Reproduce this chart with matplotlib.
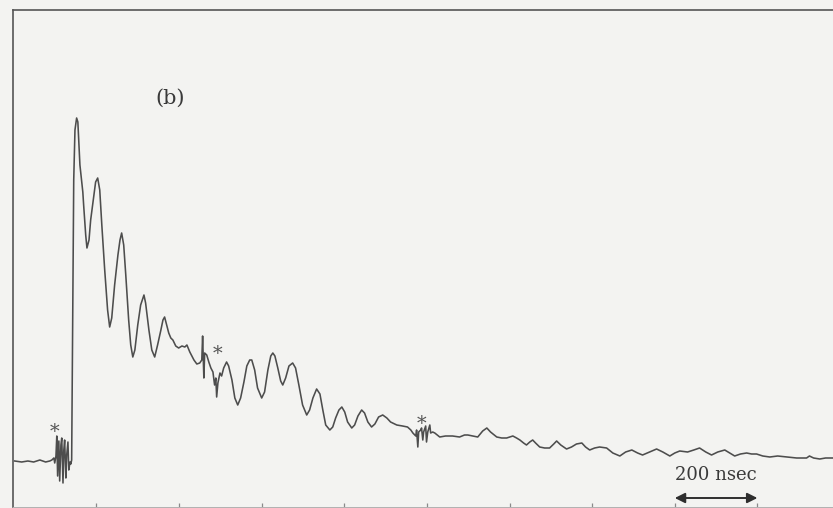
"""
Осциллограмма (b): затухающие колебания после импульса, шкала 200 нс.
"""

import matplotlib.pyplot as plt

# Время, нс
time_ns = [
    2, 19, 34, 48, 63, 77, 87, 92, 97, 99, 102, 104, 106, 109, 111, 114, 116, 119,
    121, 123, 126, 128, 131, 133, 136, 138, 140,
    143, 145, 148, 152, 155, 157, 160, 165, 167, 169, 174, 177, 182, 186, 194, 198,
    203, 208, 213, 220, 227, 232, 237, 244, 252, 257, 261, 266, 271, 278, 283, 288,
    293, 300, 307, 315, 319, 327, 334, 341, 348, 356, 361, 365, 370, 375, 380, 385,
    392, 399, 407, 414, 419, 426, 436, 443, 450, 455, 457, 460, 462, 467, 472, 477,
    482, 486, 489, 491, 494, 499, 503, 508, 515, 520, 528, 535, 542, 549, 557, 564,
    571, 576, 583, 590, 600, 607, 615, 622, 627, 632, 639, 646, 651, 658, 666, 675,
    682, 690, 699, 709, 716, 724, 733, 741, 748, 755, 765, 772, 779, 787, 794, 801,
    808, 818, 825, 833, 842, 849, 857, 866, 874, 883, 893, 903, 912, 927, 941, 953,
    961, 966, 973, 975, 978, 980, 985, 987, 990, 992, 997, 999, 1002, 1007, 1009,
    1014, 1019, 1031, 1045, 1062, 1079, 1091, 1099, 1111, 1123, 1135, 1145, 1154,
    1169, 1181, 1193, 1208, 1217, 1225, 1234, 1241, 1249, 1256, 1263, 1273, 1285,
    1297, 1307, 1314, 1324, 1338, 1350, 1362, 1375, 1384, 1394, 1406, 1418, 1435,
    1450, 1467, 1481, 1496, 1510, 1522, 1539, 1556, 1571, 1588, 1600, 1612, 1631,
    1646, 1660, 1675, 1689, 1704, 1721, 1733, 1745, 1759, 1774, 1786, 1798, 1813,
    1830, 1849, 1871, 1895, 1909, 1919, 1926, 1936, 1951, 1965, 1982,
]

# Сигнал, отн. ед.
signal = [
    0.1, 0.0, 0.1, 0.0, 0.2, 0.0, 0.1, 0.2, 0.4, -0.1, 0.6, 2.6, -1.4, 2.1, -1.9, 1.7, 2.4, -2.1,
    1.2, 2.2, -1.6, 0.7, 2.0, -0.8, 0.0, -0.2, 0.2,
    16.2, 28.2, 33.2, 34.4, 34.0, 32.2, 29.7, 27.7, 27.0, 25.7, 22.7, 21.4, 22.2, 24.2, 26.7, 28.0,
    28.4, 27.2, 23.7, 19.2, 15.2, 13.5, 14.4, 17.7, 20.7, 22.2, 22.9, 21.7, 18.7, 14.2, 11.7, 10.5,
    11.2, 13.7, 15.7, 16.7, 15.9, 13.2, 11.2, 10.5, 11.7, 13.2, 14.2, 14.5, 13.7, 12.9, 12.4, 12.2,
    11.6, 11.4, 11.6, 11.5, 11.7, 11.0, 10.2, 9.8, 9.9, 10.2, 12.6, 8.4, 10.9, 10.7, 10.0, 9.4,
    9.0, 7.7, 8.4, 6.5, 7.9, 8.9, 8.6, 9.4, 10.0, 9.6, 8.2, 6.4, 5.7, 6.4, 8.0, 9.6,
    10.2, 10.2, 9.2, 7.4, 6.4, 7.0, 9.2, 10.6, 10.9, 10.6, 9.4, 8.1, 7.7, 8.4, 9.6, 9.9,
    9.4, 7.7, 5.7, 4.7, 5.2, 6.4, 7.3, 6.8, 5.2, 3.7, 3.2, 3.5, 4.4, 5.2, 5.5, 5.0,
    4.0, 3.4, 3.7, 4.6, 5.2, 4.9, 4.0, 3.5, 3.8, 4.5, 4.7, 4.4, 4.0, 3.7, 3.6, 3.5,
    3.2, 2.9, 2.6, 3.2, 1.5, 3.0, 3.2, 3.4, 2.2, 3.0, 3.6, 2.0, 3.0, 3.7, 2.9,
    3.0, 2.9, 2.5, 2.6, 2.6, 2.5, 2.7, 2.7, 2.6, 2.5, 3.1, 3.4, 3.0,
    2.5, 2.4, 2.4, 2.6, 2.4, 2.2, 1.9, 1.7, 2.0, 2.2, 1.9, 1.5, 1.4,
    1.4, 1.8, 2.1, 1.7, 1.3, 1.5, 1.8, 1.9, 1.5, 1.2, 1.4, 1.5, 1.4,
    0.9, 0.6, 1.0, 1.2, 0.9, 0.7, 1.0, 1.3, 1.0, 0.6, 0.9, 1.1, 1.0,
    1.2, 1.4, 1.0, 0.7, 1.0, 1.2, 0.9, 0.6, 0.8, 0.9, 0.8, 0.8, 0.6,
    0.5, 0.6, 0.5, 0.4, 0.4, 0.4, 0.6, 0.4, 0.3, 0.4, 0.4,
]

# Отметки "*" над артефактами (время, уровень базовой линии текста)
star_t = [99, 494, 987]
star_y = [2.55, 10.35, 3.35]

# Масштабная линейка
scale_start, scale_end = 1600, 1800
scale_label = "200 nsec"
tick_positions = [200, 400, 600, 800, 1000, 1200, 1400, 1600, 1800]

PAPER = "#f3f3f1"
INK = "#4d4d4d"

fig = plt.figure(figsize=(8.33, 5.08), dpi=100, facecolor=PAPER)
ax = fig.add_axes([13 / 833, 1 / 508, 820 / 833, 497 / 508])
ax.set_facecolor(PAPER)

ax.plot(time_ns, signal, color=INK, linewidth=1.15, solid_joinstyle="round")

for t, y in zip(star_t, star_y):
    ax.text(t, y, "*", fontsize=14, family="DejaVu Serif", color="#555555", ha="center", va="baseline")

ax.text(378, 36.4, "(b)", fontsize=15, family="DejaVu Serif", color="#3a3a3a", ha="center", va="center")

# Линейка 200 нс
ax.annotate(
    "",
    xy=(scale_end, -3.6),
    xytext=(scale_start, -3.6),
    arrowprops={"arrowstyle": "<|-|>", "color": "#2e2e2e", "lw": 1.4, "mutation_scale": 15, "shrinkA": 0, "shrinkB": 0},
)
ax.text(
    (scale_start + scale_end) / 2, -1.3, scale_label,
    fontsize=13, family="DejaVu Serif", color="#3a3a3a", ha="center", va="center",
)

ax.set_xlim(-2, 1983)
ax.set_ylim(-4.5, 45.2)

ax.spines["right"].set_visible(False)
for side in ("top", "left"):
    ax.spines[side].set_color("#555555")
    ax.spines[side].set_linewidth(1.2)
ax.spines["bottom"].set_color("#b0b0b0")
ax.spines["bottom"].set_linewidth(0.7)

ax.set_xticks(tick_positions)
ax.tick_params(axis="x", direction="in", length=3, width=0.9, color="#8a8a8a", labelbottom=False)
ax.set_yticks([])

fig.savefig("out.png", dpi=100, facecolor=PAPER)
